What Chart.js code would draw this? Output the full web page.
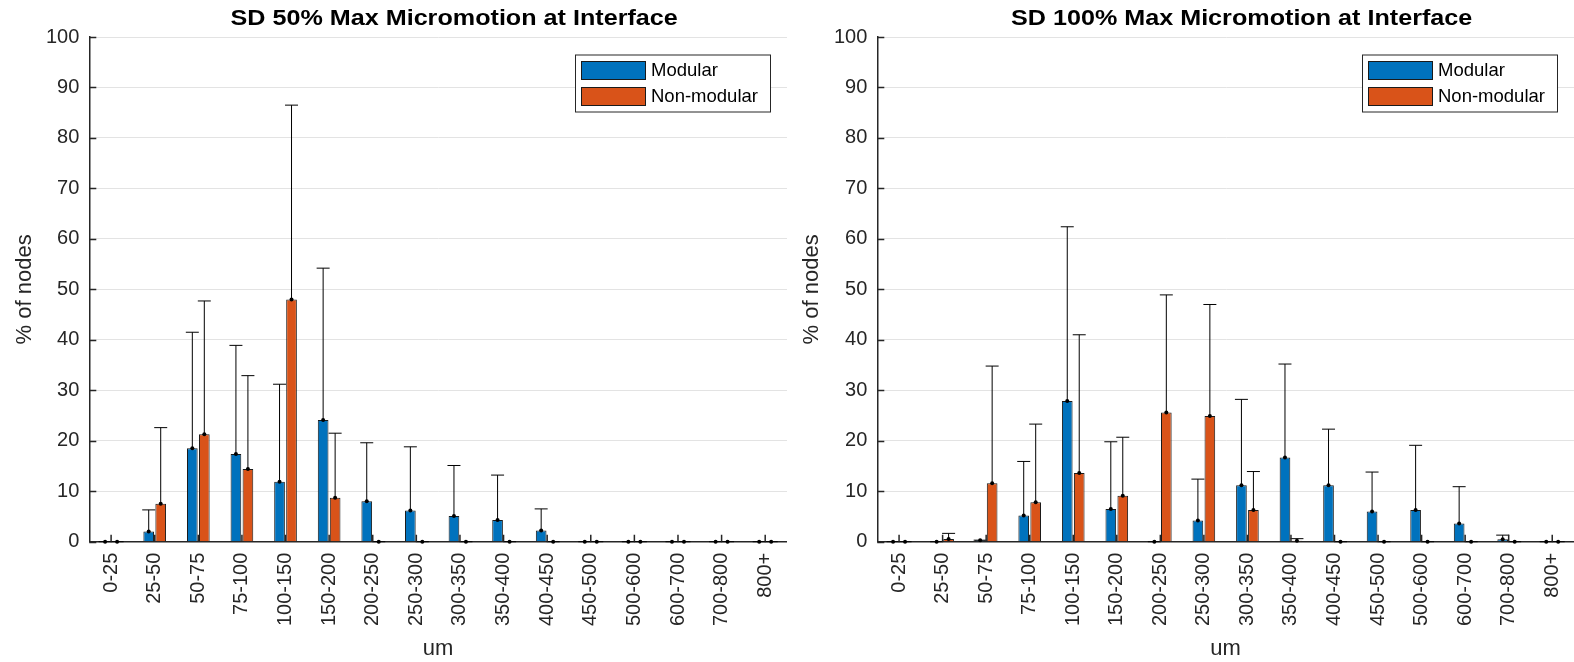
<!DOCTYPE html>
<html>
<head>
<meta charset="utf-8">
<title>Max Micromotion at Interface</title>
<script src="https://cdn.jsdelivr.net/npm/chart.js@4.4.1/dist/chart.umd.min.js"></script>
<style>
  html, body { margin: 0; padding: 0; background: #fff; }
  #wrap { position: relative; width: 1574px; height: 662px; overflow: hidden; }
  .panel { position: absolute; top: 0; }
  #left { left: 0; }
  #right { left: 787px; }
</style>
</head>
<body>
<div id="wrap">
  <div class="panel" id="left"><canvas id="sd50" width="787" height="662"></canvas></div>
  <div class="panel" id="right"><canvas id="sd100" width="787" height="662"></canvas></div>
</div>
<script>
// micromotion bins (um)
const BINS = ['0-25', '25-50', '50-75', '75-100', '100-150', '150-200', '200-250', '250-300',
  '300-350', '350-400', '400-450', '450-500', '500-600', '600-700', '700-800', '800+'];

// SD 50%: mean % of nodes and standard deviation per bin
const SD50_MODULAR = [0, 2.0, 18.5, 17.4, 11.9, 24.1, 8.0, 6.2, 5.1, 4.3, 2.2, 0, 0, 0, 0, 0];
const SD50_MODULAR_SD = [0, 4.3, 23.0, 21.5, 19.3, 30.1, 11.6, 12.6, 10.0, 8.9, 4.3, 0, 0, 0, 0, 0];
const SD50_NONMODULAR = [0, 7.5, 21.3, 14.4, 48.0, 8.7, 0, 0, 0, 0, 0, 0, 0, 0, 0, 0];
const SD50_NONMODULAR_SD = [0, 15.1, 26.4, 18.5, 38.5, 12.8, 0, 0, 0, 0, 0, 0, 0, 0, 0, 0];

// SD 100%
const SD100_MODULAR = [0, 0, 0.3, 5.2, 27.9, 6.5, 0, 4.2, 11.2, 16.7, 11.2, 6.0, 6.3, 3.6, 0.5, 0];
const SD100_MODULAR_SD = [0, 0, 0, 10.7, 34.5, 13.3, 0, 8.2, 17.0, 18.5, 11.1, 7.8, 12.8, 7.3, 0.8, 0];
const SD100_NONMODULAR = [0, 0.55, 11.6, 7.8, 13.6, 9.1, 25.6, 24.9, 6.3, 0.2, 0, 0, 0, 0, 0, 0];
const SD100_NONMODULAR_SD = [0, 1.1, 23.2, 15.5, 27.4, 11.6, 23.3, 22.1, 7.6, 0.4, 0, 0, 0, 0, 0, 0];

const Y_TICKS = [0, 10, 20, 30, 40, 50, 60, 70, 80, 90, 100];

const BLUE = '#0072BD';
const ORANGE = '#D95319';
const AXIS = '#262626';
const FONT = '"Liberation Sans", Arial, Helvetica, sans-serif';

// upper error bars with a cap, and a dot at each mean
const errorBars = {
  id: 'errorBars',
  afterDatasetsDraw(chart) {
    const { ctx } = chart;
    const y = chart.scales.y;
    ctx.save();
    ctx.strokeStyle = '#000';
    ctx.fillStyle = '#000';
    ctx.lineWidth = 1;
    chart.data.datasets.forEach((ds, i) => {
      chart.getDatasetMeta(i).data.forEach((bar, j) => {
        const base = y.getPixelForValue(ds.data[j]);
        const top = y.getPixelForValue(ds.data[j] + ds.errors[j]);
        ctx.beginPath();
        ctx.moveTo(bar.x, base);
        ctx.lineTo(bar.x, top);
        ctx.moveTo(bar.x - 6.5, top);
        ctx.lineTo(bar.x + 6.5, top);
        ctx.stroke();
        ctx.beginPath();
        ctx.arc(bar.x, base, 2, 0, Math.PI * 2);
        ctx.fill();
      });
    });
    ctx.restore();
  },
};

// tick marks pointing into the plot area
const innerTicks = {
  id: 'innerTicks',
  afterDraw(chart) {
    const { ctx, chartArea } = chart;
    const { x, y } = chart.scales;
    ctx.save();
    ctx.strokeStyle = AXIS;
    ctx.lineWidth = 1.5;
    ctx.beginPath();
    y.ticks.forEach((t, i) => {
      const py = Math.round(y.getPixelForTick(i)) + 0.5;
      ctx.moveTo(chartArea.left, py);
      ctx.lineTo(chartArea.left + 7, py);
    });
    x.ticks.forEach((t, i) => {
      const px = x.getPixelForTick(i);
      ctx.moveTo(px, chartArea.bottom);
      ctx.lineTo(px, chartArea.bottom - 7);
    });
    ctx.stroke();
    ctx.restore();
  },
};

// bold title over the axes, drawn a little wide
const axesTitle = {
  id: 'axesTitle',
  afterDraw(chart, args, opts) {
    const { ctx, chartArea } = chart;
    ctx.save();
    ctx.translate((chartArea.left + chartArea.right) / 2 + 16, 19);
    ctx.scale(1.17, 1);
    ctx.font = `bold 21.5px ${FONT}`;
    ctx.fillStyle = '#000';
    ctx.textAlign = 'center';
    ctx.textBaseline = 'middle';
    ctx.fillText(opts.text, 0, 0);
    ctx.restore();
  },
};

// boxed legend in the upper right corner of the axes
const legendBox = {
  id: 'legendBox',
  afterDraw(chart) {
    const { ctx, chartArea } = chart;
    const left = chartArea.right - 212;
    const top = chartArea.top + 17.5;
    ctx.save();
    ctx.fillStyle = '#fff';
    ctx.fillRect(left, top, 195, 57);
    ctx.strokeStyle = AXIS;
    ctx.lineWidth = 1;
    ctx.strokeRect(left + 0.5, top + 0.5, 195, 57);
    ctx.font = `18.5px ${FONT}`;
    ctx.textBaseline = 'middle';
    chart.data.datasets.forEach((ds, i) => {
      const sy = top + 6.5 + i * 26;
      ctx.fillStyle = ds.backgroundColor;
      ctx.fillRect(left + 6, sy, 65, 19);
      ctx.strokeStyle = '#1a1a1a';
      ctx.strokeRect(left + 6.5, sy + 0.5, 64, 18);
      ctx.fillStyle = '#000';
      ctx.fillText(ds.label, left + 76, sy + 10);
    });
    ctx.restore();
  },
};

function makeChart(id, title, modular, modularSd, nonModular, nonModularSd, yWidth) {
  const barStyle = {
    borderColor: '#1a1a1a',
    borderWidth: 1,
    categoryPercentage: 0.55,
    barPercentage: 0.89,
  };
  return new Chart(document.getElementById(id), {
    type: 'bar',
    data: {
      labels: BINS,
      datasets: [
        { label: 'Modular', data: modular, errors: modularSd, backgroundColor: BLUE, ...barStyle },
        { label: 'Non-modular', data: nonModular, errors: nonModularSd, backgroundColor: ORANGE, ...barStyle },
      ],
    },
    options: {
      responsive: false,
      animation: false,
      layout: { padding: { top: 37, left: 0, right: 0, bottom: 0 } },
      plugins: {
        legend: { display: false },
        tooltip: { enabled: false },
        title: { display: false },
        axesTitle: { text: title },
      },
      scales: {
        x: {
          offset: true,
          grid: { display: false, drawTicks: false },
          border: { display: true, color: AXIS, width: 1.5 },
          ticks: {
            color: AXIS,
            font: { family: FONT, size: 20 },
            minRotation: 90,
            maxRotation: 90,
            autoSkip: false,
            padding: 11,
          },
          title: {
            display: true,
            text: 'um',
            color: AXIS,
            font: { family: FONT, size: 22 },
            padding: { top: 0, bottom: 0 },
          },
          afterFit(scale) {
            scale.height = 120.3;
            scale.paddingLeft = 0;
            scale.paddingRight = 0;
          },
        },
        y: {
          min: 0,
          max: 100,
          afterBuildTicks(scale) { scale.ticks = Y_TICKS.map(v => ({ value: v })); },
          grid: { color: '#e3e3e3', lineWidth: 1, drawTicks: false },
          border: { display: true, color: AXIS, width: 1.5 },
          ticks: {
            color: AXIS,
            font: { family: FONT, size: 20 },
            padding: 10,
          },
          title: {
            display: true,
            text: '% of nodes',
            color: AXIS,
            font: { family: FONT, size: 22 },
            padding: { top: 12, bottom: 0 },
          },
          afterFit(scale) {
            scale.width = yWidth;
            scale.paddingTop = 0;
            scale.paddingBottom = 0;
          },
        },
      },
    },
    plugins: [errorBars, innerTicks, axesTitle, legendBox],
  });
}

makeChart('sd50', 'SD 50% Max Micromotion at Interface',
  SD50_MODULAR, SD50_MODULAR_SD, SD50_NONMODULAR, SD50_NONMODULAR_SD, 89.3);
makeChart('sd100', 'SD 100% Max Micromotion at Interface',
  SD100_MODULAR, SD100_MODULAR_SD, SD100_NONMODULAR, SD100_NONMODULAR_SD, 90.3);
</script>
</body>
</html>
